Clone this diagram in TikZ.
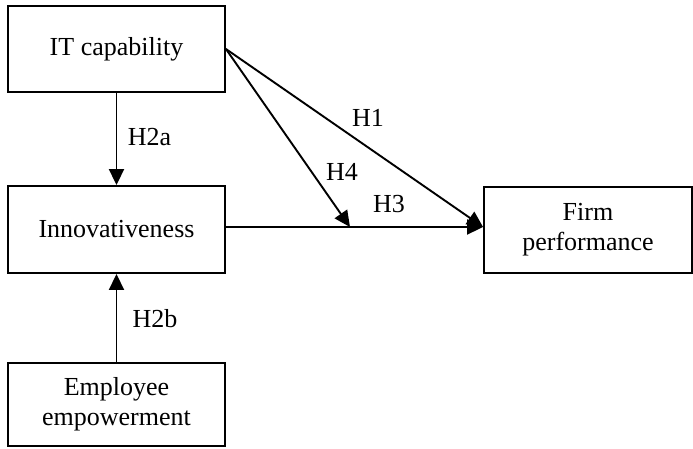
\documentclass[tikz,border=0pt]{standalone}
\usepackage{fontspec}
\setmainfont{Liberation Serif}
\usetikzlibrary{arrows.meta}
\begin{document}
\begin{tikzpicture}[x=1pt,y=-1pt,
  box/.style={draw,line width=1.9pt,align=center,inner sep=0pt,
    font=\fontsize{26}{30}\selectfont},
  conn/.style={line width=1.9pt,-{Triangle[length=16pt,width=15pt]}},
  lbl/.style={font=\fontsize{26}{30}\selectfont,inner sep=0pt}]
\useasboundingbox (0,0) rectangle (693,448);
\node[box,minimum width=217pt,minimum height=86pt] (it) at (116.5,49) {IT capability};
\node[box,minimum width=217pt,minimum height=87pt] (inn) at (116.5,229.5) {Innovativeness};
\node[box,minimum width=217pt,minimum height=83pt] (emp) at (116.5,404.5) {Employee\\empowerment};
\node[box,minimum width=208pt,minimum height=86pt] (firm) at (588,230) {Firm\\performance};
\coordinate (tip) at ([yshift=3pt]firm.west);
\coordinate (m) at (350,227);
\draw[conn] (it.south) -- (inn.north);
\draw[conn] (emp.north) -- (inn.south);
\draw[conn] (inn.east |- tip) -- (tip);
\draw[conn] (it.east) -- (tip);
\draw[conn] (it.east) -- (m);
\node[lbl] (h2a) at (149.5,137) {H2a};
\node[lbl] (h2b) at (155,319) {H2b};
\node[lbl] (h1) at (368,118) {H1};
\node[lbl] (h4) at (342,172) {H4};
\node[lbl] (h3) at (389,204) {H3};
\end{tikzpicture}
\end{document}
